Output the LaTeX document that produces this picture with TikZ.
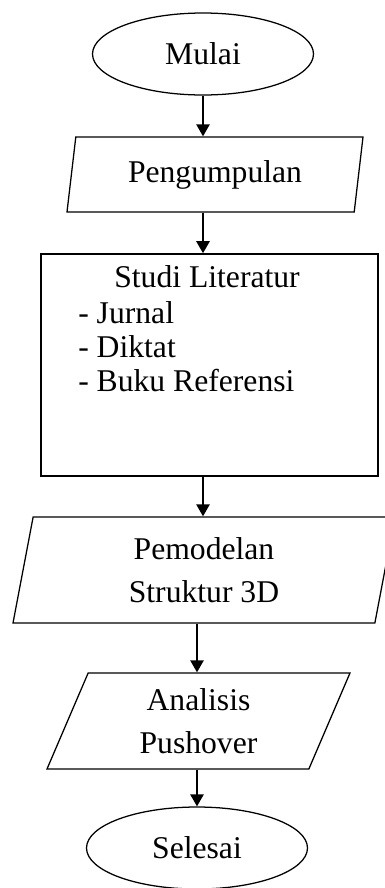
\documentclass[tikz,border=0pt]{standalone}
\usepackage{fontspec}
\setmainfont{Liberation Serif}
\usetikzlibrary{shapes.geometric,arrows.meta}
\newcommand{\unitpx}{0.025cm}
\tikzstyle{terminal} = [ellipse, draw=black, line width=0.9pt, minimum width=221*\unitpx, minimum height=82*\unitpx, inner sep=0pt]
\tikzstyle{io} = [trapezium, trapezium stretches body=true, draw=black, line width=0.9pt, align=center, inner sep=0pt]
\tikzstyle{process} = [rectangle, draw=black, line width=1.1pt, minimum width=337*\unitpx, minimum height=222*\unitpx]
\tikzstyle{flow} = [line width=1.4pt, -{Triangle[length=0.3cm, width=0.33cm]}]

\begin{document}
\begin{tikzpicture}[x=\unitpx, y=-\unitpx, every node/.style={font=\fontsize{22.5}{31}\selectfont}]
	\useasboundingbox (0,0) rectangle (385,888);
	\node [terminal] (mulai) at (203,54) {Mulai};
	\node [io, trapezium left angle=73, trapezium right angle=107,
		minimum width=296*\unitpx, minimum height=75*\unitpx] (kumpul) at (215,174.5) {Pengumpulan};
	\node [process] (studi) at (209.5,365) {};
	\node [anchor=base, inner sep=0pt] (studijudul) at (207,287) {Studi Literatur};
	\node [anchor=north west, align=left, inner sep=0pt,
		font=\fontsize{22.5}{24.2}\selectfont] (studiisi) at (78,301) {- Jurnal\\- Diktat\\- Buku Referensi};
	\node [io, trapezium left angle=73, trapezium right angle=107,
		minimum width=382*\unitpx, minimum height=106*\unitpx] (model) at (204,570) {Pemodelan\\Struktur 3D};
	\node [io, trapezium left angle=58, trapezium right angle=122,
		minimum width=303*\unitpx, minimum height=96*\unitpx] (analisis) at (198.5,721) {Analisis\\Pushover};
	\node [terminal] (selesai) at (197,848) {Selesai};
	% arrows
	\draw [flow] (mulai.south) -- (mulai.south |- kumpul.north);
	\draw [flow] (kumpul.south -| mulai.south) -- (studi.north -| mulai.south);
	\draw [flow] (studi.south -| mulai.south) -- (model.north -| mulai.south);
	\draw [flow] (model.south -| selesai.north) -- (analisis.north -| selesai.north);
	\draw [flow] (analisis.south -| selesai.north) -- (selesai.north);
\end{tikzpicture}
\end{document}
